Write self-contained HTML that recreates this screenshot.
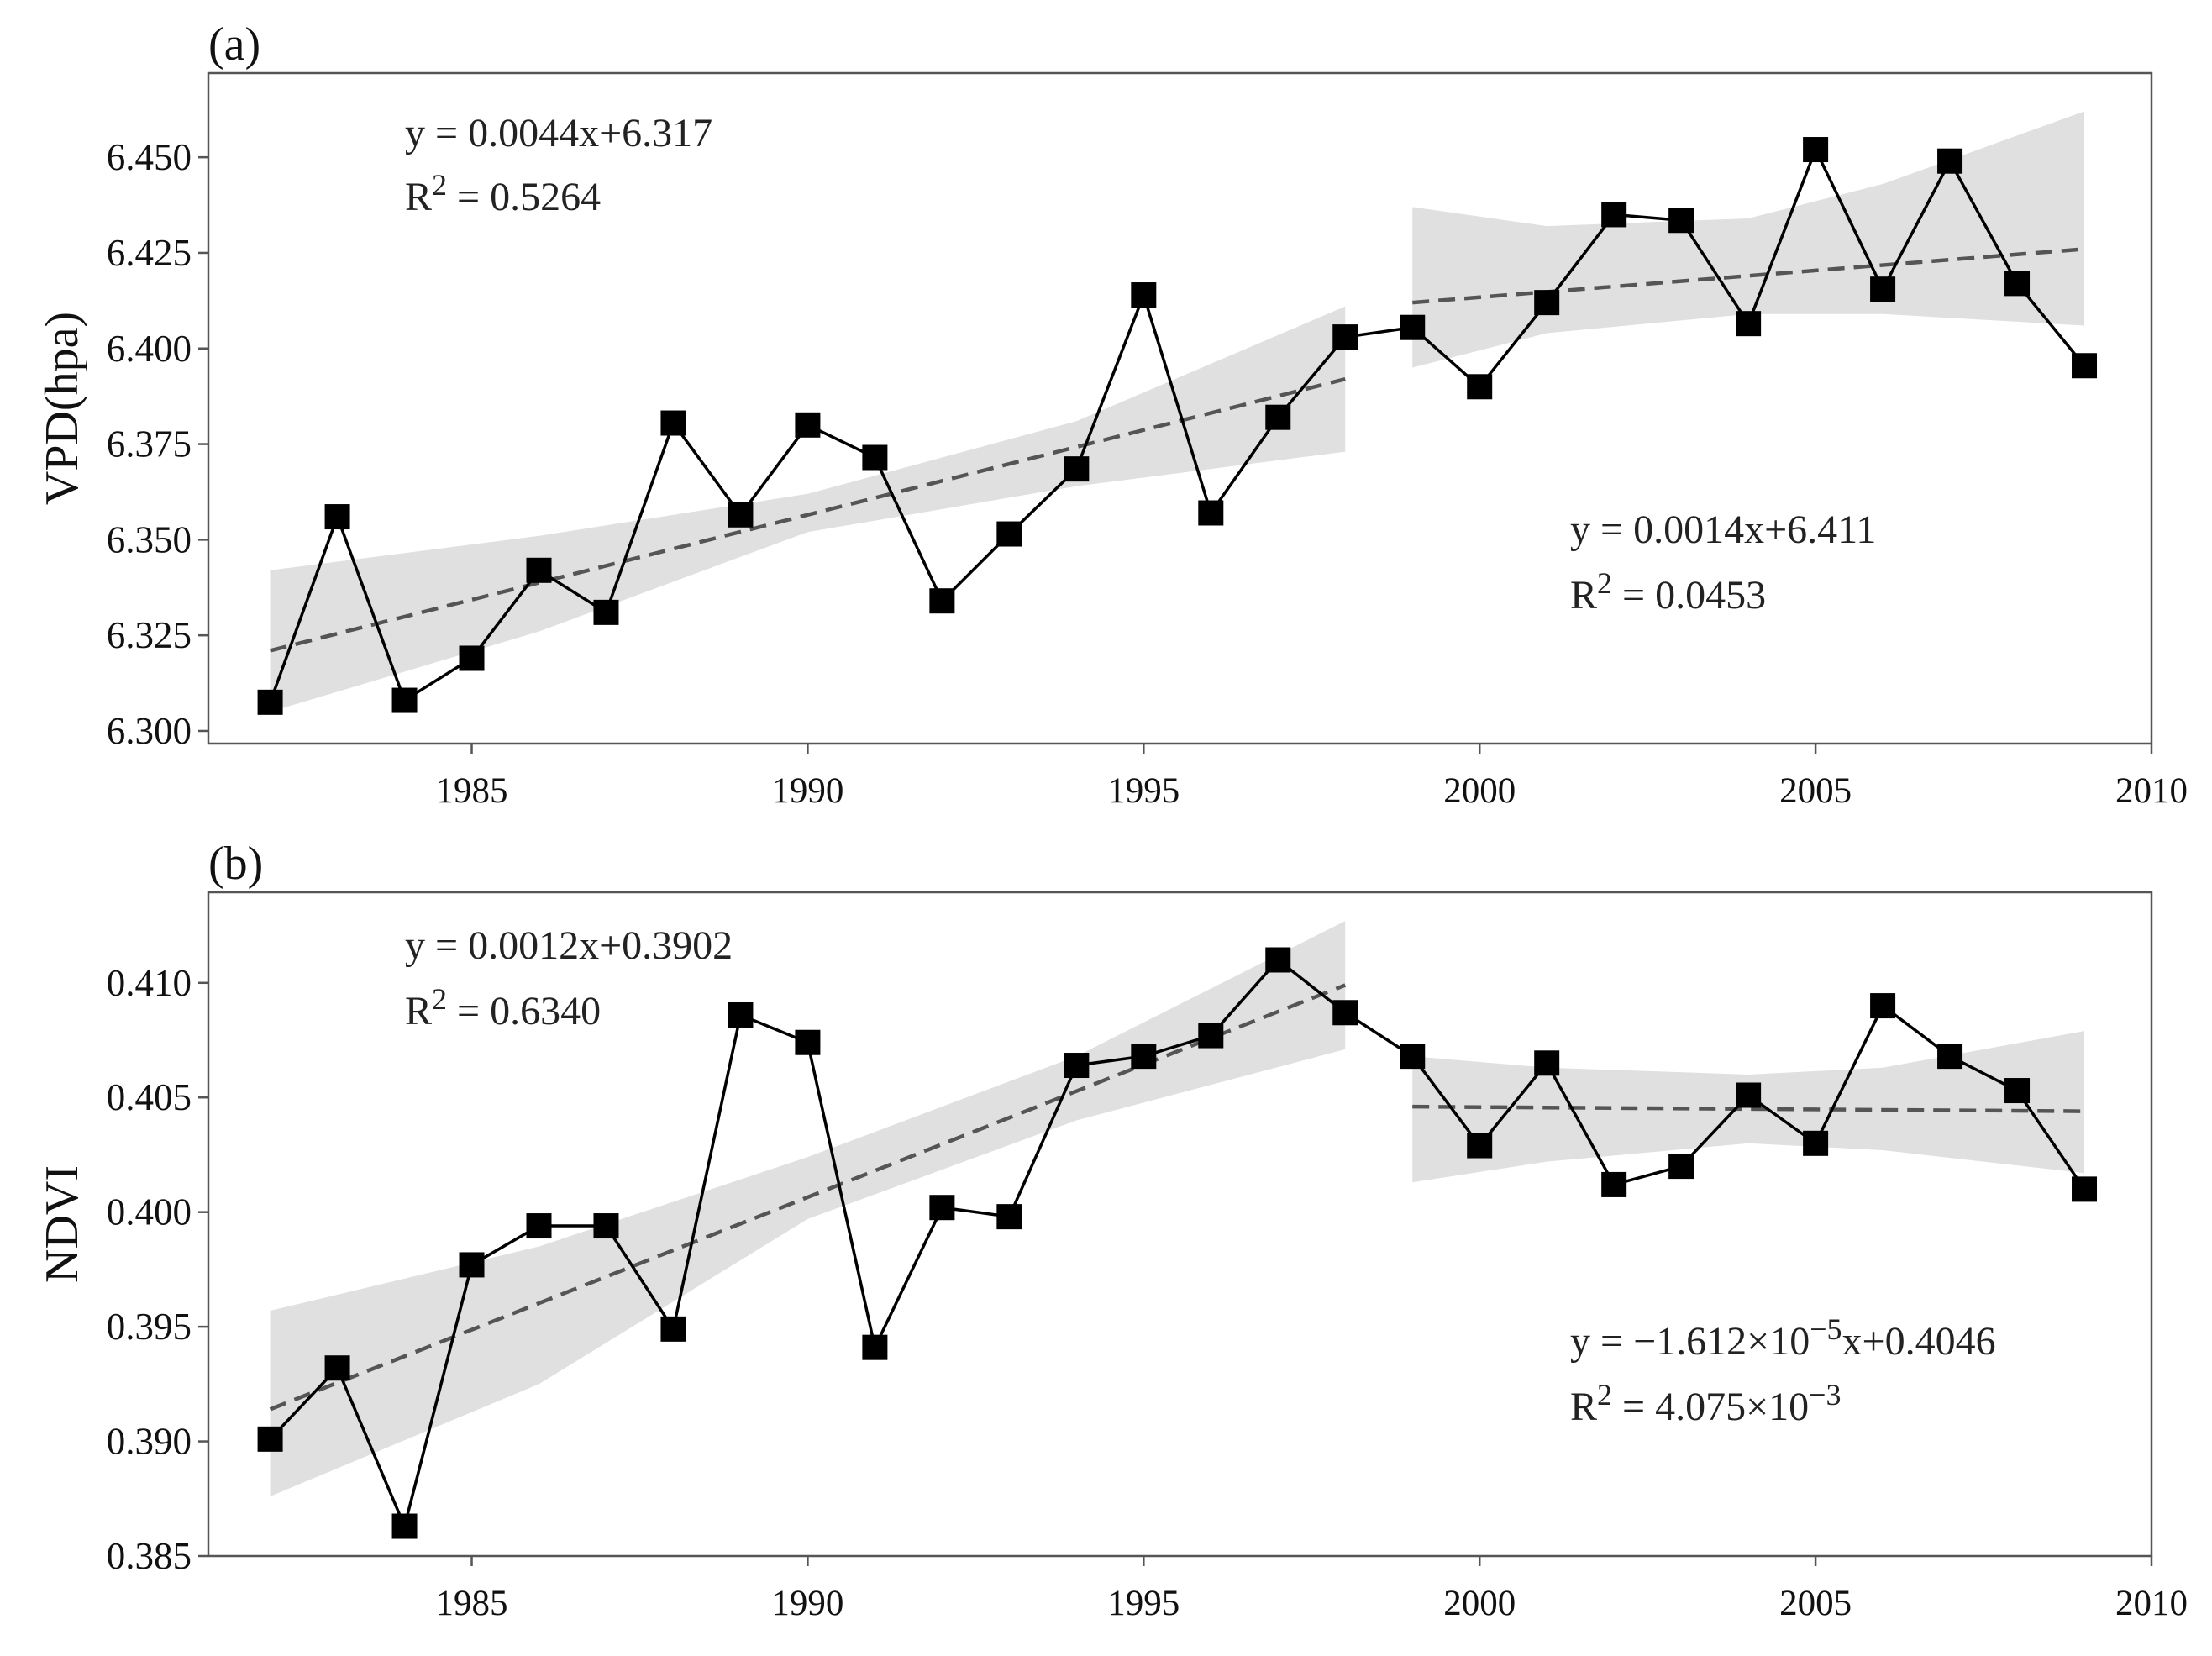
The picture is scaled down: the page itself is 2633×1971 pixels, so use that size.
<!DOCTYPE html>
<html><head><meta charset="utf-8"><style>
html,body{margin:0;padding:0;background:#fff;}
svg{display:block;font-family:"Liberation Serif",serif;}
</style></head><body>
<svg id="chart" width="2633" height="1971" viewBox="0 0 2633 1971" xmlns="http://www.w3.org/2000/svg"></svg>
<script>
const years = [1982,1983,1984,1985,1986,1987,1988,1989,1990,1991,1992,1993,1994,1995,1996,1997,1998,1999,2000,2001,2002,2003,2004,2005,2006,2007,2008,2009];
const vpdValues = [6.3075,6.356,6.308,6.319,6.342,6.331,6.3805,6.3565,6.380,6.3715,6.334,6.3515,6.3685,6.414,6.357,6.382,6.403,6.4055,6.390,6.412,6.435,6.4335,6.4065,6.452,6.4155,6.449,6.417,6.3955];
const ndviValues = [0.3901,0.3932,0.3863,0.3977,0.3994,0.3994,0.3949,0.4086,0.4074,0.3941,0.4002,0.3998,0.4064,0.4068,0.4077,0.4110,0.4087,0.4068,0.4029,0.4065,0.4012,0.4020,0.4051,0.4030,0.4090,0.4068,0.4053,0.4010];
const xTicks = [1985,1990,1995,2000,2005,2010];
const vpdTicks = [6.300,6.325,6.350,6.375,6.400,6.425,6.450];
const ndviTicks = [0.385,0.390,0.395,0.400,0.405,0.410];
const vpdTrend1 = [1982,6.321,1998,6.392];
const vpdTrend2 = [1999,6.412,2009,6.426];
const ndviTrend1 = [1982,0.3914,1998,0.4099];
const ndviTrend2 = [1999,0.4046,2009,0.4044];
const vpdBand1Years = [1982,1986,1990,1994,1998];
const vpdBand1Upper = [6.342,6.351,6.362,6.381,6.411];
const vpdBand1Lower = [6.305,6.326,6.352,6.364,6.373];
const vpdBand2Years = [1999,2001,2004,2006,2009];
const vpdBand2Upper = [6.437,6.432,6.434,6.443,6.462];
const vpdBand2Lower = [6.395,6.404,6.409,6.409,6.406];
const ndviBand1Years = [1982,1986,1990,1994,1998];
const ndviBand1Upper = [0.3957,0.3985,0.4024,0.4068,0.4127];
const ndviBand1Lower = [0.3876,0.3925,0.3997,0.4040,0.4071];
const ndviBand2Years = [1999,2001,2004,2006,2009];
const ndviBand2Upper = [0.4068,0.4063,0.4060,0.4063,0.4079];
const ndviBand2Lower = [0.4013,0.4022,0.4030,0.4027,0.4017];

const svg = document.getElementById('chart');
const NS = 'http://www.w3.org/2000/svg';
function mk(tag, attrs, parent){const e=document.createElementNS(NS,tag);for(const k in attrs)e.setAttribute(k,attrs[k]);(parent||svg).appendChild(e);return e;}

const L=248,R=2561,xMin=1981.08,xMax=2010;
const X = v => L + (v-xMin)/(xMax-xMin)*(R-L);

function panel(cfg){
  const Y = v => cfg.bot - (v-cfg.yMin)/(cfg.yMax-cfg.yMin)*(cfg.bot-cfg.top);
  const g = mk('g',{});
  
  
  [[cfg.b1y,cfg.b1u,cfg.b1l],[cfg.b2y,cfg.b2u,cfg.b2l]].forEach((b,i)=>{
    let d='';
    b[0].forEach((yr,j)=>{d+=(j?'L':'M')+X(yr)+','+Y(b[1][j]);});
    for(let j=b[0].length-1;j>=0;j--) d+='L'+X(b[0][j])+','+Y(b[2][j]);
    const p=mk('path',{d:d+'Z',fill:'#e0e0e0'},g);
    
    
  });
  [cfg.t1,cfg.t2].forEach((t,i)=>{
    const l=mk('line',{x1:X(t[0]),y1:Y(t[1]),x2:X(t[2]),y2:Y(t[3]),stroke:'#555','stroke-width':4.5,'stroke-dasharray':'20,11'},g);
    
    
  });
  const pl=mk('polyline',{points:years.map((yr,i)=>X(yr)+','+Y(cfg.vals[i])).join(' '),fill:'none',stroke:'#000','stroke-width':3.5},g);
  
  
  years.forEach((yr,i)=>{
    const s=mk('rect',{x:X(yr)-15,y:Y(cfg.vals[i])-15,width:30,height:30,fill:'#000'},g);
    
    
  });
  const f=mk('rect',{x:L,y:cfg.top,width:R-L,height:cfg.bot-cfg.top,fill:'none',stroke:'#555','stroke-width':2.5},g);
  
  
  xTicks.forEach(t=>{
    mk('line',{x1:X(t),x2:X(t),y1:cfg.bot,y2:cfg.bot+12,stroke:'#555','stroke-width':2.5},g);
    const tx=mk('text',{x:X(t),y:cfg.bot+70,'font-size':43,'text-anchor':'middle',fill:'#111'},g);
    tx.textContent=t;
    
    
  });
  cfg.ticks.forEach(t=>{
    mk('line',{x1:L-12,x2:L,y1:Y(t),y2:Y(t),stroke:'#555','stroke-width':2.5},g);
    const tx=mk('text',{x:L-20,y:Y(t)+15,'font-size':45,'text-anchor':'end',fill:'#111'},g);
    tx.textContent=t.toFixed(3);
    
    
  });
  const yl=mk('text',{x:0,y:0,'font-size':56,'text-anchor':'middle',fill:'#111',transform:`translate(92,${(cfg.top+cfg.bot)/2}) rotate(-90)`},g);
  yl.textContent=cfg.ylabel;
  
  
  const pt=mk('text',{x:L,y:cfg.top-16,'font-size':56,fill:'#111'},g);
  pt.textContent=cfg.tag;
  
  
  cfg.notes.forEach(n=>{
    const t=mk('text',{x:n[0],y:n[1],'font-size':48,fill:'#222'},g);
    t.innerHTML=n[2];
    
    
  });
}
const sup = s => `<tspan dy="-18" font-size="36">${s}</tspan><tspan dy="18"> </tspan>`;
panel({name:'vpd-panel',top:87,bot:885,yMin:6.2967,yMax:6.472,vals:vpdValues,ticks:vpdTicks,ylabel:'VPD(hpa)',tag:'(a)',
  t1:vpdTrend1,t2:vpdTrend2,b1y:vpdBand1Years,b1u:vpdBand1Upper,b1l:vpdBand1Lower,b2y:vpdBand2Years,b2u:vpdBand2Upper,b2l:vpdBand2Lower,
  notes:[[482,174,'y = 0.0044x+6.317'],[482,250,'R'+sup('2')+'= 0.5264'],[1869,646,'y = 0.0014x+6.411'],[1869,724,'R'+sup('2')+'= 0.0453']]});
panel({name:'ndvi-panel',top:1062,bot:1852,yMin:0.385,yMax:0.41395,vals:ndviValues,ticks:ndviTicks,ylabel:'NDVI',tag:'(b)',
  t1:ndviTrend1,t2:ndviTrend2,b1y:ndviBand1Years,b1u:ndviBand1Upper,b1l:ndviBand1Lower,b2y:ndviBand2Years,b2u:ndviBand2Upper,b2l:ndviBand2Lower,
  notes:[[482,1141,'y = 0.0012x+0.3902'],[482,1219,'R'+sup('2')+'= 0.6340'],[1869,1612,'y = \u22121.612\u00d710'+'<tspan dy="-18" font-size="36">\u22125</tspan><tspan dy="18">x+0.4046</tspan>'],[1869,1690,'R'+sup('2')+'= 4.075\u00d710<tspan dy="-18" font-size="36">\u22123</tspan>']]});
</script>
</body></html>
